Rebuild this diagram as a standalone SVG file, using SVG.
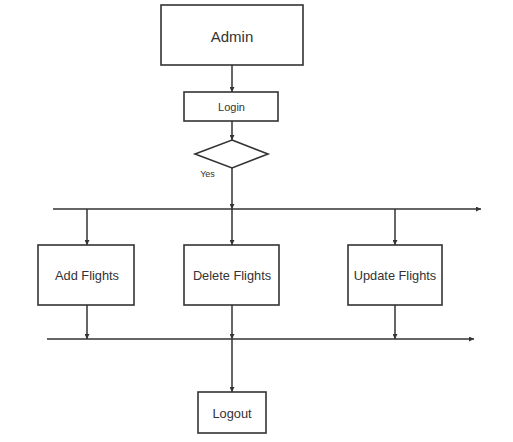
<svg xmlns="http://www.w3.org/2000/svg" width="513" height="442" viewBox="0 0 513 442">
<defs>
<marker id="ah" viewBox="0 0 10 10" refX="10" refY="5" markerWidth="5" markerHeight="5" orient="auto" markerUnits="userSpaceOnUse">
<path d="M0,0 L10,5 L0,10 z" fill="#333"/>
</marker>
<style>
.box{fill:#fff;stroke:#333;stroke-width:1.6}
.ln{fill:none;stroke:#333;stroke-width:1.5}
.t{font-family:"Liberation Sans",Arial,sans-serif;fill:#333;text-anchor:middle;dominant-baseline:central}
</style>
</defs>
<rect width="513" height="442" fill="#fff"/>
<g id="connectors">
<line class="ln" x1="232" y1="65" x2="232" y2="92" marker-end="url(#ah)"/>
<line class="ln" x1="232" y1="121" x2="232" y2="140" marker-end="url(#ah)"/>
<line class="ln" x1="232" y1="168" x2="232" y2="209" marker-end="url(#ah)"/>
<line class="ln" x1="53" y1="209" x2="481" y2="209" marker-end="url(#ah)"/>
<line class="ln" x1="87" y1="209" x2="87" y2="245" marker-end="url(#ah)"/>
<line class="ln" x1="232" y1="209" x2="232" y2="245" marker-end="url(#ah)"/>
<line class="ln" x1="395" y1="209" x2="395" y2="245" marker-end="url(#ah)"/>
<line class="ln" x1="87" y1="305" x2="87" y2="339" marker-end="url(#ah)"/>
<line class="ln" x1="232" y1="305" x2="232" y2="339" marker-end="url(#ah)"/>
<line class="ln" x1="395" y1="305" x2="395" y2="339" marker-end="url(#ah)"/>
<line class="ln" x1="47" y1="339" x2="474" y2="339" marker-end="url(#ah)"/>
<line class="ln" x1="232" y1="339" x2="232" y2="392" marker-end="url(#ah)"/>
<text class="t" x="207.5" y="174" font-size="9">Yes</text>
</g>
<g id="admin">
<rect class="box" x="161" y="5" width="142" height="60"/>
<text class="t" x="232" y="36" font-size="15">Admin</text>
</g>
<g id="login">
<rect class="box" x="184" y="92" width="94" height="29"/>
<text class="t" x="231.5" y="106.5" font-size="11">Login</text>
</g>
<g id="decision">
<polygon class="box" points="232,140 268,154 232,168 195,154"/>
</g>
<g id="add-flights">
<rect class="box" x="38" y="245" width="96" height="60"/>
<text class="t" x="87" y="275" font-size="12.8">Add Flights</text>
</g>
<g id="delete-flights">
<rect class="box" x="184" y="245" width="95" height="60"/>
<text class="t" x="232" y="275" font-size="12.8">Delete Flights</text>
</g>
<g id="update-flights">
<rect class="box" x="348" y="245" width="94" height="60"/>
<text class="t" x="395" y="275" font-size="12.8">Update Flights</text>
</g>
<g id="logout">
<rect class="box" x="198" y="392" width="68" height="41"/>
<text class="t" x="232" y="413" font-size="12.8">Logout</text>
</g>
</svg>
